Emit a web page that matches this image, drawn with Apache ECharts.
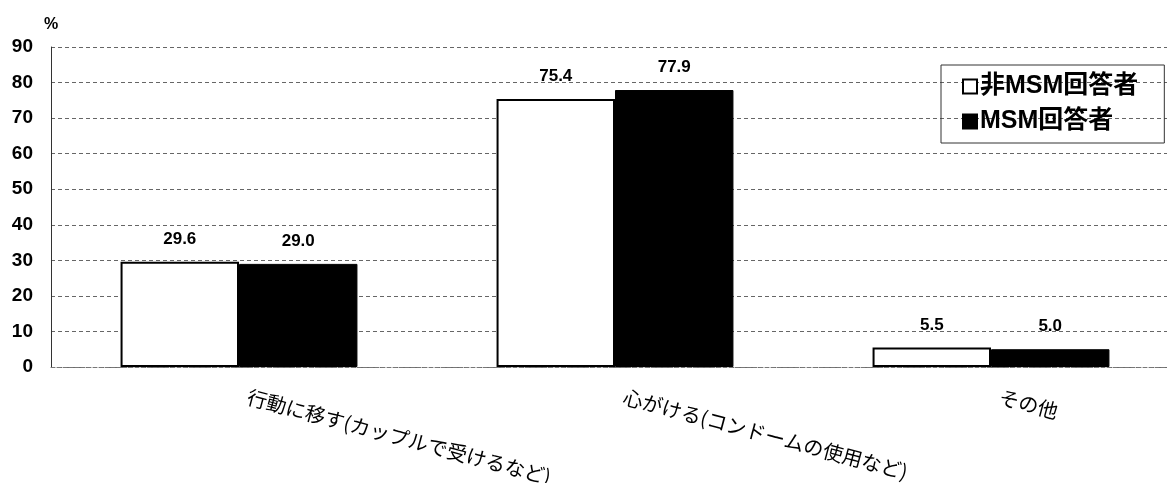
<!DOCTYPE html>
<html>
<head>
<meta charset="utf-8">
<script src="https://cdn.jsdelivr.net/npm/echarts@6/dist/echarts.min.js"></script>
<style>
  html, body { margin: 0; padding: 0; background: #fff; overflow: hidden; }
  #chart { width: 1182px; height: 483px; }
</style>
</head>
<body>
<div id="chart"></div>
<script>
// Categories and values (%)
const categories = ['行動に移す(カップルで受けるなど)', '心がける(コンドームの使用など)', 'その他'];
const nonMsmValues = [29.6, 75.4, 5.5];
const msmValues = [29.0, 77.9, 5.0];
const seriesNames = ['非MSM回答者', 'MSM回答者'];
const yTicks = { min: 0, max: 90, interval: 10 };

const chart = echarts.init(document.getElementById('chart'), null, { renderer: 'canvas' });

const valueLabel = {
  show: true,
  position: 'top',
  distance: 14,
  formatter: p => p.value.toFixed(1),
  fontFamily: 'Liberation Sans, Arial, sans-serif',
  fontSize: 17,
  fontWeight: 'bold',
  color: '#000'
};

chart.setOption({
  animation: false,
  backgroundColor: '#fff',
  grid: { left: 51, top: 47, width: 1128, height: 320, containLabel: false, outerBoundsMode: 'none' },
  title: {
    text: '%',
    left: 39,
    top: 12,
    textStyle: { fontFamily: 'Liberation Sans, Arial, sans-serif', fontSize: 16, fontWeight: 'bold', color: '#000' }
  },
  legend: {
    orient: 'vertical',
    left: 941,
    top: 65,
    padding: [9, 26, 9, 21],
    itemGap: 10,
    itemWidth: 14,
    itemHeight: 14,
    icon: 'rect',
    borderColor: '#333',
    borderWidth: 1,
    data: seriesNames,
    textStyle: { fontFamily: 'Liberation Sans, Noto Sans CJK JP, sans-serif', fontSize: 25, fontWeight: 'bold', color: '#000', padding: [0, 0, 0, -2] }
  },
  xAxis: {
    type: 'category',
    data: categories,
    axisLine: { show: true, lineStyle: { color: '#777', type: 'dashed', width: 1 } },
    axisTick: { show: false },
    axisLabel: {
      interval: 0,
      rotate: -15,
      margin: 27,
      padding: [0, 0, 0, 9],
      fontFamily: 'Noto Sans CJK JP, sans-serif',
      fontSize: 20,
      color: '#000'
    }
  },
  yAxis: {
    type: 'value',
    min: yTicks.min,
    max: yTicks.max,
    interval: yTicks.interval,
    axisLine: { show: true, lineStyle: { color: '#333', width: 1 } },
    axisTick: { show: false },
    axisLabel: {
      margin: 18,
      fontFamily: 'Liberation Sans, Arial, sans-serif',
      fontSize: 19,
      fontWeight: 'bold',
      color: '#000'
    },
    splitLine: { show: true, lineStyle: { color: '#666', type: [4, 3], width: 1 } }
  },
  series: [
    {
      name: seriesNames[0],
      type: 'bar',
      data: nonMsmValues,
      barGap: '0%',
      barCategoryGap: '37%',
      itemStyle: { color: '#fff', borderColor: '#000', borderWidth: 2 },
      label: valueLabel
    },
    {
      name: seriesNames[1],
      type: 'bar',
      data: msmValues,
      barGap: '0%',
      barCategoryGap: '37%',
      itemStyle: { color: '#000', borderColor: '#000', borderWidth: 1 },
      label: valueLabel
    }
  ]
});
</script>
</body>
</html>
